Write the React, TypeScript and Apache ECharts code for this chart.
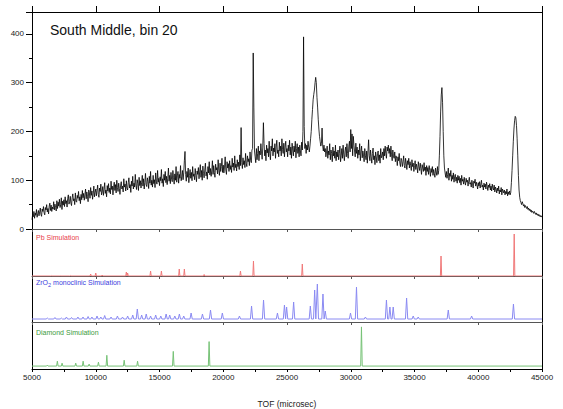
import React, { useEffect, useRef } from "react";
import * as echarts from "echarts";

// Measured spectrum: counts every 50 microsec from 5000 to 45000
const TOF_START = 5000;
const TOF_STEP = 50;
const counts = [
  19, 30, 25, 36, 22, 33, 28, 40, 24, 31,
  38, 27, 35, 43, 30, 26, 41, 36, 46, 33,
  29, 44, 39, 50, 35, 42, 31, 47, 53, 38,
  49, 36, 45, 41, 56, 39, 51, 44, 37, 58,
  42, 55, 47, 61, 44, 50, 64, 40, 57, 49,
  60, 46, 66, 52, 58, 45, 63, 70, 51, 56,
  67, 53, 48, 64, 72, 58, 62, 50, 74, 57,
  55, 69, 63, 77, 58, 66, 52, 71, 60, 79,
  64, 73, 59, 70, 82, 62, 76, 67, 56, 80,
  74, 63, 85, 69, 78, 61, 72, 88, 66, 75,
  82, 68, 79, 90, 71, 65, 84, 77, 92, 70,
  76, 87, 69, 81, 95, 73, 80, 66, 89, 78,
  93, 75, 84, 72, 98, 81, 88, 70, 86, 96,
  79, 91, 74, 100, 85, 77, 94, 83, 71, 90,
  97, 82, 88, 76, 103, 86, 92, 78, 99, 84,
  80, 95, 105, 84, 91, 75, 98, 88, 108, 82,
  94, 86, 112, 90, 81, 101, 93, 79, 106, 89,
  99, 84, 96, 110, 88, 103, 82, 95, 114, 91,
  87, 105, 97, 83, 108, 94, 118, 90, 100, 86,
  110, 93, 101, 85, 115, 98, 92, 120, 96, 104,
  89, 107, 99, 122, 94, 103, 87, 112, 100, 118,
  95, 108, 91, 104, 125, 98, 110, 93, 116, 102,
  97, 120, 105, 92, 113, 100, 128, 96, 109, 118,
  94, 112, 104, 130, 99, 107, 120, 101, 115, 140,
  159, 112, 98, 118, 106, 125, 95, 110, 122, 104,
  116, 99, 128, 108, 113, 101, 124, 110, 97, 119,
  112, 126, 103, 117, 132, 106, 120, 100, 129, 114,
  105, 121, 135, 109, 117, 102, 128, 115, 138, 111,
  124, 108, 119, 140, 112, 130, 116, 106, 133, 121,
  126, 113, 142, 120, 110, 135, 118, 128, 145, 116,
  131, 115, 127, 148, 121, 112, 138, 125, 134, 118,
  140, 122, 130, 116, 145, 127, 135, 120, 150, 126,
  133, 119, 142, 128, 137, 122, 152, 130, 208, 136,
  124, 146, 132, 140, 126, 155, 135, 128, 150, 138,
  144, 130, 158, 141, 136, 162, 165, 361, 250, 160,
  148, 136, 165, 142, 155, 170, 140, 160, 152, 175,
  158, 143, 168, 218, 175, 150, 162, 140, 172, 156,
  165, 148, 180, 155, 142, 170, 160, 185, 150, 166,
  158, 175, 145, 168, 182, 155, 162, 148, 178, 160,
  170, 150, 185, 163, 155, 176, 148, 168, 180, 158,
  165, 148, 172, 160, 182, 152, 168, 145, 176, 162,
  150, 170, 158, 180, 146, 165, 175, 155, 168, 148,
  172, 160, 150, 178, 162, 200, 394, 210, 165, 175,
  155, 172, 162, 180, 168, 158, 170, 185, 200, 225,
  245, 265, 276, 285, 300, 311, 300, 270, 250, 225,
  205, 190, 180, 170, 175, 207, 170, 160, 172, 158,
  165, 148, 158, 170, 145, 160, 152, 175, 142, 162,
  155, 138, 168, 150, 160, 145, 172, 140, 158, 148,
  162, 142, 155, 170, 138, 150, 165, 145, 172, 152,
  140, 160, 168, 148, 175, 155, 145, 170, 180, 158,
  204, 165, 195, 150, 190, 172, 160, 148, 176, 155,
  168, 145, 162, 152, 175, 140, 158, 170, 146, 160,
  152, 138, 165, 150, 142, 160, 135, 158, 183, 150,
  140, 162, 148, 135, 155, 166, 142, 150, 132, 158,
  148, 136, 155, 160, 140, 152, 135, 165, 146, 150,
  158, 142, 165, 150, 170, 155, 145, 168, 160, 172,
  155, 165, 148, 170, 152, 140, 162, 150, 145, 158,
  138, 150, 145, 130, 148, 140, 155, 135, 128, 145,
  140, 128, 138, 150, 130, 125, 145, 135, 122, 140,
  132, 145, 125, 138, 130, 120, 142, 128, 135, 118,
  130, 140, 122, 133, 126, 115, 138, 128, 120, 135,
  124, 112, 132, 125, 118, 136, 120, 127, 110, 130,
  118, 126, 112, 130, 120, 108, 124, 116, 128, 110,
  122, 114, 106, 125, 117, 110, 128, 112, 120, 150,
  190, 240, 275, 290, 260, 200, 150, 125, 115, 106,
  118, 104, 112, 125, 100, 114, 108, 120, 98, 110,
  102, 115, 96, 108, 112, 98, 106, 94, 110, 100,
  108, 95, 104, 90, 110, 98, 102, 92, 106, 96,
  90, 104, 96, 100, 88, 98, 106, 92, 95, 86,
  100, 92, 84, 98, 94, 102, 88, 96, 90, 82,
  95, 88, 97, 84, 92, 100, 86, 90, 80, 94,
  86, 92, 82, 96, 88, 79, 90, 85, 93, 80,
  88, 78, 92, 84, 80, 90, 76, 86, 82, 74,
  84, 78, 88, 72, 80, 76, 85, 70, 82, 78,
  74, 80, 70, 77, 72, 82, 68, 76, 71, 78,
  70, 75, 95, 120, 150, 180, 205, 222, 231, 228,
  212, 185, 150, 110, 80, 65, 58, 54, 50, 56,
  52, 47, 50, 44, 48, 45, 42, 46, 40, 43,
  38, 41, 36, 39, 34, 37, 35, 32, 36, 33,
  30, 33, 29, 31, 27, 30, 26, 28, 25, 27,
  24,
];

// Simulated peaks: [TOF, relative height]
const pbPeaks = [
  [6500, 0.5], [7200, 0.5], [8000, 0.5], [9600, 2], [10000, 3], [10500, 1],
  [12400, 4], [12500, 3], [14300, 5], [15150, 5], [16550, 7], [16950, 7],
  [18500, 1.5], [21350, 5], [22370, 15], [26200, 12], [37080, 20], [42820, 42],
];
const zrPeaks = [
  [6200, 1], [6800, 1.5], [7300, 1], [7700, 2], [8100, 1.5], [8600, 2], [9000, 2],
  [9400, 2.5], [9700, 2], [10100, 3], [10400, 2], [10700, 3.5], [11200, 2],
  [11700, 3], [12100, 2], [12500, 3], [12900, 4], [13260, 10], [13600, 4],
  [13960, 5], [14300, 3], [14700, 4], [15100, 3], [15520, 5], [15800, 4],
  [16200, 3], [16560, 5], [16900, 3], [17480, 6], [18370, 5], [19000, 9],
  [19930, 6], [21270, 3], [22220, 13], [23160, 19], [24250, 6], [24800, 14],
  [24970, 12], [25520, 17], [26830, 13], [27170, 29], [27380, 35], [27820, 25],
  [28000, 8], [29980, 6], [30450, 32], [31150, 2], [32800, 19], [33070, 12],
  [33330, 12], [34380, 21], [34900, 3], [35290, 2], [37650, 9], [39480, 3],
  [42760, 15],
];
const diamondPeaks = [
  [6200, 1], [6990, 5], [7360, 3], [8430, 3], [9010, 5], [9480, 2], [10210, 4],
  [10870, 11], [12230, 6], [13280, 5], [16080, 15], [18890, 25], [30840, 40],
];

const xTickLabels = ["5000", "10000", "15000", "20000", "25000", "30000", "35000", "40000", "45000"];
const yTickLabels = ["0", "100", "200", "300", "400"];

const X_MIN = 5000;
const X_MAX = 45000;
const FONT = "'Liberation Sans', Arial, sans-serif";

function sticks(peaks: number[][], hw: number) {
  const out: number[][] = [[X_MIN, 0]];
  peaks.forEach(([t, h]) => {
    out.push([t - hw, 0], [t, h], [t + hw, 0]);
  });
  out.push([X_MAX, 0]);
  return out;
}

export default function App() {
  const ref = useRef<HTMLDivElement>(null);
  useEffect(() => {
    if (!ref.current) return;
    const chart = echarts.init(ref.current, null, { renderer: "svg" });
    const mainData = counts.map((c, i) => [TOF_START + i * TOF_STEP, c]);
    const L = 32, R = 21;
    const grids = [
      { left: L, right: R, top: 12, height: 217 },
      { left: L, right: R, top: 229, height: 47 },
      { left: L, right: R, top: 276, height: 46 },
      { left: L, right: R, top: 322, height: 48 },
    ];
    const topAxis = (gi: number, main: boolean) => ({
      type: "value",
      gridIndex: gi,
      position: "top",
      min: X_MIN,
      max: X_MAX,
      interval: 5000,
      axisLine: { show: true, onZero: false, lineStyle: { color: main ? "#000" : "#555", width: 1 } },
      axisTick: { show: true, inside: !main, length: main ? 6 : 3, lineStyle: { color: main ? "#000" : "#555" } },
      axisLabel: { show: false },
      splitLine: { show: false },
    });
    const sideAxes = (gi: number) => [
      {
        type: "value", gridIndex: gi, position: "right",
        axisLine: { show: true, onZero: false, lineStyle: { color: "#000" } },
        axisTick: { show: false }, axisLabel: { show: false }, splitLine: { show: false },
      },
    ];
    const panelY = (gi: number, min: number, max: number) => ({
      type: "value", gridIndex: gi, position: "left", min, max,
      axisLine: { show: true, onZero: false, lineStyle: { color: "#000" } },
      axisTick: { show: false }, axisLabel: { show: false }, splitLine: { show: false },
    });
    const option: any = {
      animation: false,
      backgroundColor: "#fff",
      grid: grids,
      xAxis: [
        topAxis(0, true),
        topAxis(1, false),
        topAxis(2, false),
        topAxis(3, false),
        {
          type: "value",
          gridIndex: 3,
          position: "bottom",
          min: X_MIN,
          max: X_MAX,
          interval: 2500,
          axisLine: { show: true, onZero: false, lineStyle: { color: "#000" } },
          axisTick: { show: true, length: 3, lineStyle: { color: "#000" } },
          axisLabel: {
            fontSize: 8,
            color: "#222",
            fontFamily: FONT,
            margin: 4,
            formatter: (v: number) => {
              const s = String(v);
              return xTickLabels.indexOf(s) >= 0 ? s : "";
            },
          },
          splitLine: { show: false },
          name: "TOF (microsec)",
          nameLocation: "middle",
          nameGap: 30,
          nameTextStyle: { fontSize: 8.5, color: "#222", fontFamily: FONT },
        },
      ],
      yAxis: [
        {
          type: "value",
          gridIndex: 0,
          position: "left",
          min: 0,
          max: 445,
          interval: 100,
          axisLine: { show: true, lineStyle: { color: "#000" } },
          axisTick: { show: true, length: 6, lineStyle: { color: "#000" } },
          minorTick: { show: true, splitNumber: 2, length: 3, lineStyle: { color: "#000" } },
          axisLabel: {
            fontSize: 8,
            color: "#222",
            fontFamily: FONT,
            margin: 8,
            formatter: (v: number) => {
              const s = String(v);
              return yTickLabels.indexOf(s) >= 0 ? s : "";
            },
          },
          splitLine: { show: false },
        },
        ...sideAxes(0),
        panelY(1, 0, 47),
        ...sideAxes(1),
        panelY(2, -3, 43),
        ...sideAxes(2),
        panelY(3, -3, 45),
        ...sideAxes(3),
      ],
      series: [
        {
          type: "line", xAxisIndex: 0, yAxisIndex: 0, data: mainData,
          showSymbol: false, symbol: "none", sampling: undefined,
          lineStyle: { color: "#000", width: 0.8 },
        },
        {
          type: "line", xAxisIndex: 1, yAxisIndex: 2, data: sticks(pbPeaks, 50),
          showSymbol: false, symbol: "none",
          lineStyle: { color: "#f07878", width: 1 },
        },
        {
          type: "line", xAxisIndex: 2, yAxisIndex: 4, data: sticks(zrPeaks, 90),
          showSymbol: false, symbol: "none",
          lineStyle: { color: "#8a8af2", width: 1 },
        },
        {
          type: "line", xAxisIndex: 3, yAxisIndex: 6, data: sticks(diamondPeaks, 60),
          showSymbol: false, symbol: "none",
          lineStyle: { color: "#76c276", width: 1 },
        },
      ],
      graphic: [
        {
          type: "text", left: 50, top: 23,
          style: { text: "South Middle, bin 20", fontSize: 14, fontFamily: FONT, fill: "#111" },
        },
        {
          type: "text", left: 36, top: 234,
          style: { text: "Pb Simulation", fontSize: 7, fontFamily: FONT, fill: "#e8404a" },
        },
        {
          type: "text", left: 36, top: 279,
          style: {
            text: "{a|ZrO}{s|2}{a| monoclinic Simulation}",
            fontFamily: FONT,
            rich: {
              a: { fontSize: 7, fontFamily: FONT, fill: "#4040dd", color: "#4040dd" },
              s: { fontSize: 5.5, fontFamily: FONT, fill: "#4040dd", color: "#4040dd", padding: [4, 0, 0, 0] },
            },
          },
        },
        {
          type: "text", left: 36, top: 329,
          style: { text: "Diamond Simulation", fontSize: 7, fontFamily: FONT, fill: "#3c9a3c" },
        },
      ],
    };
    chart.setOption(option);
    return () => chart.dispose();
  }, []);
  return (
    <div
      ref={ref}
      style={{ position: "fixed", left: 0, top: 0, width: 563, height: 409 }}
    />
  );
}
